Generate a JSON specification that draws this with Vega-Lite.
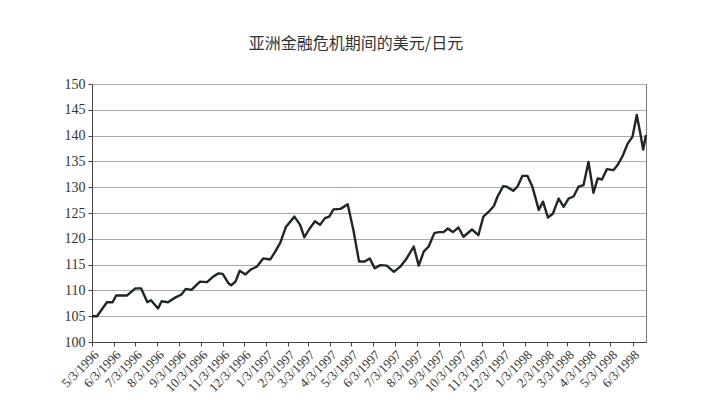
{
  "$schema": "https://vega.github.io/schema/vega-lite/v6.json",
  "autosize": "none",
  "padding": {"left": 92, "top": 84, "right": 56, "bottom": 71},
  "width": 554,
  "height": 258,
  "background": "white",
  "config": {
    "font": "Liberation Serif",
    "axis": {"labelFont": "Liberation Serif"},
    "view": {"stroke": "#777", "strokeWidth": 1}
  },
  "title": {
    "text": "亚洲金融危机期间的美元/日元",
    "font": "Noto Sans CJK SC",
    "fontSize": 16,
    "fontWeight": "normal",
    "color": "#333",
    "anchor": "middle",
    "dx": -13,
    "offset": 25
  },
  "data": {
    "values": [
      {"date": "1996-05-03", "rate": 105.0},
      {"date": "1996-05-10", "rate": 105.0},
      {"date": "1996-05-24", "rate": 107.7},
      {"date": "1996-06-01", "rate": 107.7},
      {"date": "1996-06-06", "rate": 109.0},
      {"date": "1996-06-21", "rate": 109.0},
      {"date": "1996-07-03", "rate": 110.4},
      {"date": "1996-07-11", "rate": 110.4},
      {"date": "1996-07-20", "rate": 107.7},
      {"date": "1996-07-25", "rate": 108.1},
      {"date": "1996-08-04", "rate": 106.5},
      {"date": "1996-08-09", "rate": 107.9},
      {"date": "1996-08-18", "rate": 107.7},
      {"date": "1996-08-28", "rate": 108.6},
      {"date": "1996-09-06", "rate": 109.2},
      {"date": "1996-09-12", "rate": 110.3},
      {"date": "1996-09-20", "rate": 110.1},
      {"date": "1996-10-02", "rate": 111.7},
      {"date": "1996-10-12", "rate": 111.6},
      {"date": "1996-10-21", "rate": 112.7},
      {"date": "1996-10-28", "rate": 113.3},
      {"date": "1996-11-03", "rate": 113.2},
      {"date": "1996-11-11", "rate": 111.4},
      {"date": "1996-11-15", "rate": 111.0},
      {"date": "1996-11-21", "rate": 111.7},
      {"date": "1996-11-27", "rate": 113.8},
      {"date": "1996-12-05", "rate": 113.1},
      {"date": "1996-12-12", "rate": 114.0},
      {"date": "1996-12-21", "rate": 114.6},
      {"date": "1996-12-30", "rate": 116.2},
      {"date": "1997-01-09", "rate": 116.0},
      {"date": "1997-01-16", "rate": 117.5},
      {"date": "1997-01-23", "rate": 119.2},
      {"date": "1997-01-31", "rate": 122.3},
      {"date": "1997-02-12", "rate": 124.3},
      {"date": "1997-02-20", "rate": 122.7},
      {"date": "1997-02-26", "rate": 120.3},
      {"date": "1997-03-05", "rate": 121.9},
      {"date": "1997-03-13", "rate": 123.4},
      {"date": "1997-03-20", "rate": 122.7},
      {"date": "1997-03-27", "rate": 124.0},
      {"date": "1997-04-02", "rate": 124.3},
      {"date": "1997-04-08", "rate": 125.7},
      {"date": "1997-04-18", "rate": 125.8},
      {"date": "1997-04-28", "rate": 126.7},
      {"date": "1997-05-06", "rate": 121.7},
      {"date": "1997-05-14", "rate": 115.6},
      {"date": "1997-05-22", "rate": 115.6},
      {"date": "1997-05-29", "rate": 116.2},
      {"date": "1997-06-05", "rate": 114.3},
      {"date": "1997-06-13", "rate": 114.9},
      {"date": "1997-06-22", "rate": 114.8},
      {"date": "1997-07-02", "rate": 113.6},
      {"date": "1997-07-11", "rate": 114.6},
      {"date": "1997-07-20", "rate": 116.2},
      {"date": "1997-07-30", "rate": 118.5},
      {"date": "1997-08-06", "rate": 114.8},
      {"date": "1997-08-13", "rate": 117.5},
      {"date": "1997-08-20", "rate": 118.5},
      {"date": "1997-08-28", "rate": 121.1},
      {"date": "1997-09-03", "rate": 121.3},
      {"date": "1997-09-10", "rate": 121.3},
      {"date": "1997-09-16", "rate": 122.0},
      {"date": "1997-09-23", "rate": 121.3},
      {"date": "1997-10-01", "rate": 122.2},
      {"date": "1997-10-08", "rate": 120.4},
      {"date": "1997-10-20", "rate": 121.8},
      {"date": "1997-10-29", "rate": 120.7},
      {"date": "1997-11-05", "rate": 124.3},
      {"date": "1997-11-13", "rate": 125.3},
      {"date": "1997-11-20", "rate": 126.4},
      {"date": "1997-11-25", "rate": 128.2},
      {"date": "1997-12-03", "rate": 130.2},
      {"date": "1997-12-08", "rate": 130.1},
      {"date": "1997-12-17", "rate": 129.3},
      {"date": "1997-12-23", "rate": 130.1},
      {"date": "1997-12-30", "rate": 132.2},
      {"date": "1998-01-06", "rate": 132.2},
      {"date": "1998-01-13", "rate": 130.1},
      {"date": "1998-01-22", "rate": 125.6},
      {"date": "1998-01-28", "rate": 127.2},
      {"date": "1998-02-04", "rate": 124.1},
      {"date": "1998-02-11", "rate": 124.9},
      {"date": "1998-02-19", "rate": 127.8},
      {"date": "1998-02-26", "rate": 126.2},
      {"date": "1998-03-05", "rate": 127.8},
      {"date": "1998-03-12", "rate": 128.2},
      {"date": "1998-03-19", "rate": 130.1},
      {"date": "1998-03-26", "rate": 130.4},
      {"date": "1998-04-02", "rate": 134.9},
      {"date": "1998-04-09", "rate": 128.9},
      {"date": "1998-04-15", "rate": 131.7},
      {"date": "1998-04-21", "rate": 131.5},
      {"date": "1998-04-28", "rate": 133.5},
      {"date": "1998-05-07", "rate": 133.3},
      {"date": "1998-05-12", "rate": 134.1},
      {"date": "1998-05-20", "rate": 136.0},
      {"date": "1998-05-27", "rate": 138.4},
      {"date": "1998-06-03", "rate": 139.8},
      {"date": "1998-06-09", "rate": 144.0},
      {"date": "1998-06-14", "rate": 140.4},
      {"date": "1998-06-18", "rate": 137.3},
      {"date": "1998-06-22", "rate": 140.1}
    ]
  },
  "mark": {"type": "line", "color": "#1e2626", "strokeWidth": 2.4, "strokeJoin": "round"},
  "encoding": {
    "x": {
      "field": "date",
      "type": "temporal",
      "title": null,
      "scale": {
        "type": "utc",
        "domain": [
          {"year": 1996, "month": 5, "date": 3, "utc": true},
          {"year": 1998, "month": 6, "date": 22, "utc": true}
        ]
      },
      "axis": {
        "values": [
          {"year": 1996, "month": 5, "date": 3, "utc": true},
          {"year": 1996, "month": 6, "date": 3, "utc": true},
          {"year": 1996, "month": 7, "date": 3, "utc": true},
          {"year": 1996, "month": 8, "date": 3, "utc": true},
          {"year": 1996, "month": 9, "date": 3, "utc": true},
          {"year": 1996, "month": 10, "date": 3, "utc": true},
          {"year": 1996, "month": 11, "date": 3, "utc": true},
          {"year": 1996, "month": 12, "date": 3, "utc": true},
          {"year": 1997, "month": 1, "date": 3, "utc": true},
          {"year": 1997, "month": 2, "date": 3, "utc": true},
          {"year": 1997, "month": 3, "date": 3, "utc": true},
          {"year": 1997, "month": 4, "date": 3, "utc": true},
          {"year": 1997, "month": 5, "date": 3, "utc": true},
          {"year": 1997, "month": 6, "date": 3, "utc": true},
          {"year": 1997, "month": 7, "date": 3, "utc": true},
          {"year": 1997, "month": 8, "date": 3, "utc": true},
          {"year": 1997, "month": 9, "date": 3, "utc": true},
          {"year": 1997, "month": 10, "date": 3, "utc": true},
          {"year": 1997, "month": 11, "date": 3, "utc": true},
          {"year": 1997, "month": 12, "date": 3, "utc": true},
          {"year": 1998, "month": 1, "date": 3, "utc": true},
          {"year": 1998, "month": 2, "date": 3, "utc": true},
          {"year": 1998, "month": 3, "date": 3, "utc": true},
          {"year": 1998, "month": 4, "date": 3, "utc": true},
          {"year": 1998, "month": 5, "date": 3, "utc": true},
          {"year": 1998, "month": 6, "date": 3, "utc": true}
        ],
        "format": "%-m/%-d/%Y",
        "labelFont": "Liberation Serif",
        "labelAngle": -45,
        "labelAlign": "right",
        "labelBaseline": "top",
        "labelFontSize": 13,
        "labelColor": "#333",
        "labelPadding": 2,
        "labelOverlap": false,
        "labelFlush": false,
        "grid": false,
        "domainColor": "#444",
        "tickColor": "#444",
        "tickSize": 4
      }
    },
    "y": {
      "field": "rate",
      "type": "quantitative",
      "title": null,
      "scale": {"domain": [100, 150], "nice": false, "zero": false},
      "axis": {
        "values": [100, 105, 110, 115, 120, 125, 130, 135, 140, 145, 150],
        "labelFont": "Liberation Serif",
        "labelFontSize": 14,
        "labelColor": "#333",
        "labelPadding": 3,
        "gridColor": "#aaa",
        "gridOpacity": 1,
        "domainColor": "#444",
        "tickColor": "#444",
        "tickSize": 4
      }
    }
  }
}
